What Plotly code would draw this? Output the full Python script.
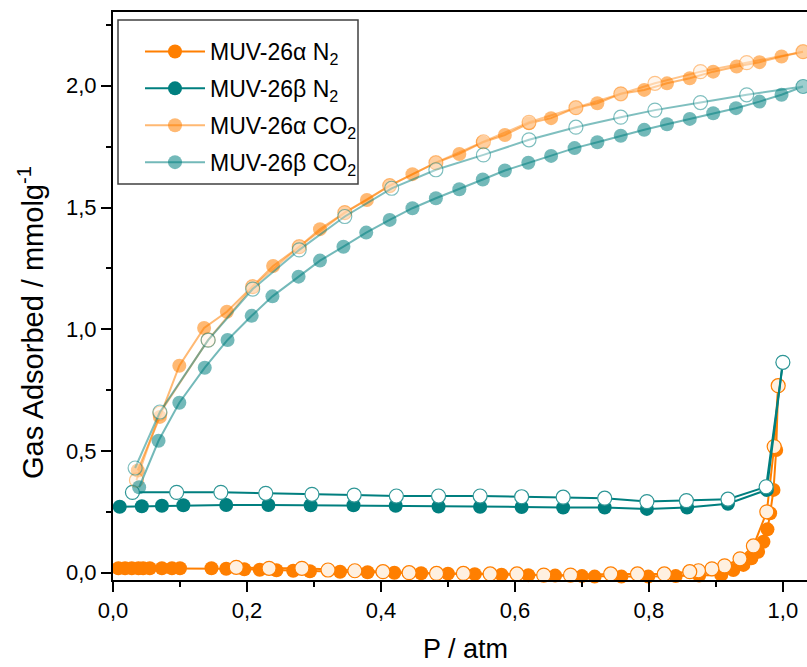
import plotly.graph_objects as go

# ---------------- data ----------------
# N2 MUV-26alpha adsorption
n2a_ads_x = [0.008, 0.018, 0.028, 0.038, 0.045, 0.055, 0.073, 0.088, 0.100, 0.147, 0.169, 0.196, 0.219,
             0.244, 0.269, 0.294, 0.339, 0.38, 0.42, 0.46, 0.50, 0.54, 0.58, 0.62, 0.66, 0.70, 0.719,
             0.759, 0.799, 0.84, 0.875, 0.908, 0.926, 0.941, 0.953, 0.963, 0.971, 0.977, 0.981, 0.986,
             0.990, 0.993]
n2a_ads_y = [0.018, 0.018, 0.018, 0.018, 0.018, 0.018, 0.018, 0.018, 0.018, 0.018, 0.016, 0.014, 0.012,
             0.010, 0.008, 0.006, 0.004, 0.002, 0.0, -0.002, -0.004, -0.006, -0.008, -0.010, -0.012,
             -0.014, -0.016, -0.016, -0.016, -0.014, -0.012, -0.009, 0.011, 0.032, 0.059, 0.086, 0.127,
             0.178, 0.244, 0.340, 0.504, 0.768]
# N2 MUV-26alpha desorption
n2a_des_x = [0.993, 0.987, 0.976, 0.956, 0.936, 0.913, 0.894, 0.874, 0.861, 0.823, 0.783, 0.743, 0.683,
             0.643, 0.603, 0.563, 0.523, 0.483, 0.442, 0.403, 0.361, 0.321, 0.282, 0.233, 0.184]
n2a_des_y = [0.768, 0.518, 0.250, 0.110, 0.057, 0.028, 0.016, 0.008, 0.004, -0.005, -0.005, -0.005,
             -0.010, -0.010, -0.005, -0.005, -0.003, -0.003, 0.0, 0.004, 0.008, 0.011, 0.018, 0.018, 0.022]

# N2 MUV-26beta adsorption
n2b_ads_x = [0.010, 0.043, 0.073, 0.105, 0.169, 0.232, 0.295, 0.359, 0.422, 0.486, 0.548, 0.610, 0.672,
             0.734, 0.797, 0.857, 0.918, 0.976, 1.000]
n2b_ads_y = [0.271, 0.273, 0.275, 0.277, 0.278, 0.278, 0.277, 0.277, 0.275, 0.272, 0.271, 0.270, 0.268,
             0.268, 0.262, 0.268, 0.283, 0.340, 0.864]
# N2 MUV-26beta desorption
n2b_des_x = [1.000, 0.975, 0.918, 0.856, 0.797, 0.734, 0.672, 0.610, 0.548, 0.486, 0.423, 0.360, 0.297,
             0.228, 0.161, 0.095, 0.029]
n2b_des_y = [0.864, 0.353, 0.302, 0.296, 0.292, 0.306, 0.310, 0.312, 0.315, 0.315, 0.315, 0.319, 0.322,
             0.326, 0.330, 0.330, 0.330]

# CO2 MUV-26alpha adsorption
co2a_ads_x = [0.037, 0.070, 0.099, 0.136, 0.170, 0.2085, 0.239, 0.278, 0.309, 0.346, 0.379, 0.413, 0.447,
              0.482, 0.517, 0.552, 0.585, 0.621, 0.654, 0.691, 0.723, 0.758, 0.793, 0.827, 0.861, 0.896,
              0.931, 0.965, 0.998, 1.030]
co2a_ads_y = [0.42, 0.64, 0.85, 1.005, 1.072, 1.175, 1.26, 1.339, 1.411, 1.479, 1.531, 1.59, 1.637, 1.684,
              1.72, 1.768, 1.798, 1.846, 1.867, 1.91, 1.928, 1.967, 1.983, 2.01, 2.031, 2.058, 2.079,
              2.097, 2.12, 2.14]
# CO2 MUV-26alpha desorption
co2a_des_x = [1.030, 0.946, 0.877, 0.809, 0.758, 0.691, 0.621, 0.553, 0.482, 0.413, 0.346, 0.278,
              0.2085, 0.142, 0.070, 0.035]
co2a_des_y = [2.14, 2.095, 2.058, 2.01, 1.967, 1.91, 1.85, 1.77, 1.684, 1.59, 1.479, 1.339, 1.175,
              0.956, 0.655, 0.38]

# CO2 MUV-26beta adsorption
co2b_ads_x = [0.039, 0.068, 0.099, 0.137, 0.171, 0.207, 0.238, 0.277, 0.309, 0.344, 0.378, 0.413, 0.447,
              0.482, 0.517, 0.552, 0.585, 0.620, 0.654, 0.689, 0.723, 0.758, 0.793, 0.827, 0.861, 0.896,
              0.930, 0.965, 0.998, 1.030]
co2b_ads_y = [0.351, 0.542, 0.698, 0.842, 0.956, 1.055, 1.135, 1.216, 1.282, 1.339, 1.397, 1.449, 1.497,
              1.538, 1.575, 1.615, 1.652, 1.684, 1.712, 1.744, 1.768, 1.795, 1.819, 1.842, 1.864, 1.887,
              1.908, 1.935, 1.963, 1.997]
# CO2 MUV-26beta desorption
co2b_des_x = [1.030, 0.946, 0.877, 0.809, 0.758, 0.691, 0.621, 0.553, 0.482, 0.416, 0.346, 0.278,
              0.2085, 0.142, 0.070, 0.033]
co2b_des_y = [1.997, 1.963, 1.931, 1.90, 1.871, 1.83, 1.778, 1.716, 1.655, 1.579, 1.463, 1.326, 1.165,
              0.955, 0.66, 0.43]

names = ["MUV-26α N<sub>2</sub>", "MUV-26β N<sub>2</sub>",
         "MUV-26α CO<sub>2</sub>", "MUV-26β CO<sub>2</sub>"]
x_ticks = [0, 0.2, 0.4, 0.6, 0.8, 1.0]
x_ticktext = ["0,0", "0,2", "0,4", "0,6", "0,8", "1,0"]
y_ticks = [0, 0.5, 1.0, 1.5, 2.0]
y_ticktext = ["0,0", "0,5", "1,0", "1,5", "2,0"]

# ---------------- styles ----------------
ORANGE = "#FF7F00"
TEAL = "#007F7F"
ORANGE_L = "rgba(255,127,0,0.55)"
TEAL_L = "rgba(0,127,127,0.55)"
MS = 14
FONT = "Liberation Sans, Arial, sans-serif"

# plot area in pixels
W, H = 807, 667
L, R, T, B = 113, 0, 12, 87
PW, PH = W - L - R, H - T - B

def px_x(p):
    return (p - L) / PW

def px_y(p):
    return (H - B - p) / PH

fig = go.Figure()

def add(x, y, name, color, fill, line_color, group, legend, width=2):
    fig.add_trace(go.Scatter(
        x=x, y=y, mode="lines+markers", name=name, legendgroup=group, showlegend=legend,
        line=dict(color=line_color, width=width),
        marker=dict(symbol="circle", size=MS, color=fill, line=dict(color=color, width=1.2 if not legend else 0)),
        cliponaxis=False if group.startswith("n2") else True,
    ))

add(n2a_ads_x, n2a_ads_y, names[0], ORANGE, ORANGE, ORANGE, "n2a", True)
add(n2a_des_x, n2a_des_y, names[0], ORANGE, "#FFF0E0", ORANGE, "n2a", False)
add(n2b_ads_x, n2b_ads_y, names[1], TEAL, TEAL, TEAL, "n2b", True)
add(n2b_des_x, n2b_des_y, names[1], "#2E9696", "#FFFFFF", TEAL, "n2b", False)
add(co2a_ads_x, co2a_ads_y, names[2], ORANGE_L, ORANGE_L, ORANGE_L, "co2a", True)
add(co2a_des_x, co2a_des_y, names[2], "rgba(255,127,0,0.45)", "rgba(255,235,215,0.45)", "rgba(255,127,0,0.45)", "co2a", False)
add(co2b_ads_x, co2b_ads_y, names[3], TEAL_L, TEAL_L, TEAL_L, "co2b", True)
add(co2b_des_x, co2b_des_y, names[3], "rgba(0,127,127,0.5)", "rgba(255,255,255,0.3)", "rgba(0,127,127,0.5)", "co2b", False)

# legend frame (box 118-358 x 20-184 px)
fig.add_shape(type="rect", xref="paper", yref="paper",
              x0=px_x(118), x1=px_x(358), y0=px_y(184), y1=px_y(20),
              fillcolor="white", line=dict(color="#404040", width=1.5), layer="above")

fig.add_annotation(text="P / atm", xref="paper", yref="paper", x=px_x(465), y=px_y(649),
                   xanchor="center", yanchor="middle", showarrow=False,
                   font=dict(family=FONT, size=27, color="black"))
fig.add_annotation(text="Gas Adsorbed / mmolg<sup>-1</sup>", xref="paper", yref="paper",
                   x=px_x(31), y=px_y(323), textangle=-90,
                   xanchor="center", yanchor="middle", showarrow=False,
                   font=dict(family=FONT, size=29, color="black"))

fig.update_layout(
    width=W, height=H,
    margin=dict(l=L, r=R, t=T, b=B),
    paper_bgcolor="white", plot_bgcolor="white",
    separators=", ",
    font=dict(family=FONT, size=22, color="black"),
    showlegend=True,
    legend=dict(
        x=px_x(140), y=px_y(30), xanchor="left", yanchor="top",
        bgcolor="rgba(0,0,0,0)", borderwidth=0,
        font=dict(family=FONT, size=23, color="black"),
        traceorder="grouped", tracegroupgap=4,
        itemwidth=60,
    ),
    xaxis=dict(
        range=[0, 1.036], tickmode="array", tickvals=x_ticks, ticktext=x_ticktext,
        ticks="outside", ticklen=10, tickwidth=2, tickcolor="black",
        minor=dict(dtick=0.1, tick0=0, ticks="outside", ticklen=5, tickwidth=2, tickcolor="black"),
        showline=True, linecolor="black", linewidth=2, mirror=True,
        showgrid=False, zeroline=False,
        tickfont=dict(family=FONT, size=22),
    ),
    yaxis=dict(
        range=[-0.03, 2.303], tickmode="array", tickvals=y_ticks, ticktext=y_ticktext,
        ticks="outside", ticklen=10, tickwidth=2, tickcolor="black",
        minor=dict(dtick=0.25, tick0=0, ticks="outside", ticklen=5, tickwidth=2, tickcolor="black"),
        showline=True, linecolor="black", linewidth=2, mirror=False,
        showgrid=False, zeroline=False,
        tickfont=dict(family=FONT, size=22),
    ),
)

fig.write_html("out.html")
